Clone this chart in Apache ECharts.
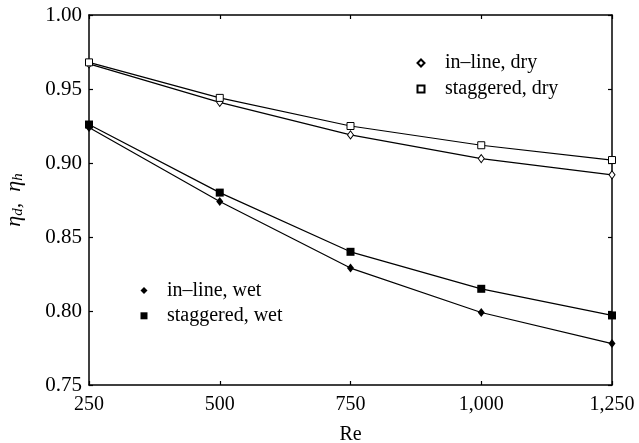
<!DOCTYPE html>
<html>
<head>
<meta charset="utf-8">
<script src="https://cdn.jsdelivr.net/npm/echarts@6/dist/echarts.min.js"></script>
<style>
html,body{margin:0;padding:0;background:#fff;}
#chart{width:639px;height:443px;}
</style>
</head>
<body>
<div id="chart"></div>
<script>
const reValues = [250, 500, 750, 1000, 1250];
const xTickLabels = ['250', '500', '750', '1,000', '1,250'];
const inlineDry = [0.967, 0.941, 0.919, 0.903, 0.892];
const staggeredDry = [0.968, 0.944, 0.925, 0.912, 0.902];
const inlineWet = [0.924, 0.874, 0.829, 0.799, 0.778];
const staggeredWet = [0.926, 0.880, 0.840, 0.815, 0.797];
const seriesNames = ['in\u2013line, dry', 'staggered, dry', 'in\u2013line, wet', 'staggered, wet'];

const FONT = 'Liberation Serif';
const pair = (vals) => reValues.map((x, i) => [x, vals[i]]);

const chart = echarts.init(document.getElementById('chart'), null, {renderer: 'canvas'});
const axisCommon = {
  axisLine: {show: true, onZero: false, lineStyle: {color: '#000', width: 1.5}},
  axisTick: {show: true, inside: true, length: 4, lineStyle: {color: '#000', width: 1.2}},
  splitLine: {show: false}
};
const lineStyle = {color: '#000', width: 1.2};
chart.setOption({
  animation: false,
  backgroundColor: '#fff',
  textStyle: {fontFamily: FONT, color: '#000'},
  grid: {left: 89, right: 27, top: 15, bottom: 58, containLabel: false, outerBoundsMode: 'none'},
  xAxis: [
    Object.assign({
      type: 'value', min: 250, max: 1250, interval: 250, position: 'bottom',
      name: 'Re', nameLocation: 'middle', nameGap: 40,
      nameTextStyle: {fontFamily: FONT, fontSize: 20, color: '#000'},
      axisLabel: {
        margin: 10, fontFamily: FONT, fontSize: 20, color: '#000',
        formatter: (v) => xTickLabels[reValues.indexOf(v)] || ''
      }
    }, axisCommon),
    Object.assign({
      type: 'value', min: 250, max: 1250, interval: 250, position: 'top',
      axisLabel: {show: false}
    }, axisCommon)
  ],
  yAxis: [
    Object.assign({
      type: 'value', min: 0.75, max: 1.0, interval: 0.05, position: 'left',
      name: '{e|\u03B7}{s|d}{e|,\u2002\u03B7}{s|h}', nameLocation: 'middle', nameGap: 63, nameRotate: 90,
      nameTextStyle: {
        fontFamily: FONT, fontSize: 20, color: '#000',
        rich: {
          e: {fontFamily: FONT, fontSize: 22, fontStyle: 'italic', color: '#000', lineHeight: 24},
          s: {fontFamily: FONT, fontSize: 15, fontStyle: 'italic', color: '#000', lineHeight: 7, verticalAlign: 'bottom'}
        }
      },
      axisLabel: {
        margin: 7, fontFamily: FONT, fontSize: 21, color: '#000',
        formatter: (v) => v.toFixed(2)
      }
    }, axisCommon),
    Object.assign({
      type: 'value', min: 0.75, max: 1.0, interval: 0.05, position: 'right',
      axisLabel: {show: false}
    }, axisCommon)
  ],
  legend: [
    {
      data: [{name: seriesNames[0], icon: 'diamond'}, {name: seriesNames[1], icon: 'rect'}],
      orient: 'vertical', left: 416.5, top: 53, padding: 0, itemWidth: 7, itemHeight: 7, itemGap: 6,
      textStyle: {fontFamily: FONT, fontSize: 20, color: '#000', padding: [0, 0, 0, 15.5]},
      selectedMode: false
    },
    {
      data: [{name: seriesNames[2], icon: 'diamond'}, {name: seriesNames[3], icon: 'rect'}],
      orient: 'vertical', left: 140.5, top: 280.5, padding: 0, itemWidth: 7, itemHeight: 7, itemGap: 5.3,
      textStyle: {fontFamily: FONT, fontSize: 20, color: '#000', padding: [0, 0, 0, 14.5]},
      selectedMode: false
    }
  ],
  series: [
    {
      name: seriesNames[0], type: 'line', data: pair(inlineDry), symbol: 'diamond', symbolSize: [6, 8],
      lineStyle: lineStyle, itemStyle: {color: '#fff', borderColor: '#000', borderWidth: 1}, z: 3
    },
    {
      name: seriesNames[1], type: 'line', data: pair(staggeredDry), symbol: 'rect', symbolSize: 7,
      lineStyle: lineStyle, itemStyle: {color: '#fff', borderColor: '#000', borderWidth: 1}, z: 3
    },
    {
      name: seriesNames[2], type: 'line', data: pair(inlineWet), symbol: 'diamond', symbolSize: [7, 9],
      lineStyle: lineStyle, itemStyle: {color: '#000', borderWidth: 0}, z: 3
    },
    {
      name: seriesNames[3], type: 'line', data: pair(staggeredWet), symbol: 'rect', symbolSize: 8,
      lineStyle: lineStyle, itemStyle: {color: '#000', borderWidth: 0}, z: 3
    }
  ]
});
</script>
</body>
</html>
